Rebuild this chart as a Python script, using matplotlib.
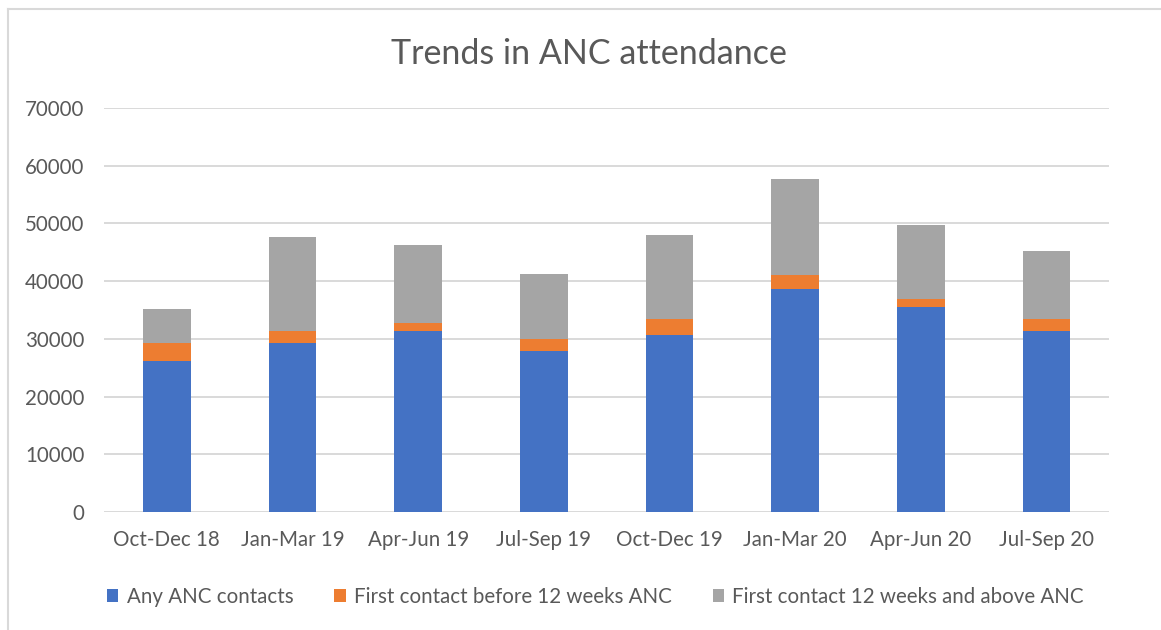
import numpy as np
import matplotlib.pyplot as plt
from matplotlib.lines import Line2D

quarters = ["Oct-Dec 18", "Jan-Mar 19", "Apr-Jun 19", "Jul-Sep 19",
            "Oct-Dec 19", "Jan-Mar 20", "Apr-Jun 20", "Jul-Sep 20"]
any_anc = [26100, 29200, 31300, 27900, 30600, 38600, 35500, 31300]
before_12 = [3100, 2100, 1400, 2000, 2800, 2400, 1400, 2100]
after_12 = [5900, 16300, 13500, 11400, 14500, 16600, 12800, 11800]

plt.rcParams['font.family'] = ['Lato', 'DejaVu Sans']
text_col = "#595959"

fig = plt.figure(figsize=(11.61, 6.3), dpi=100)
ax = fig.add_axes([0.0896, 0.187, 0.866, 0.642])

x = np.arange(len(quarters))
w = 0.38
b1 = np.array(any_anc)
b2 = b1 + np.array(before_12)
ax.bar(x, any_anc, w, color="#4472C4", label="Any ANC contacts", zorder=3)
ax.bar(x, before_12, w, bottom=b1, color="#ED7D31",
       label="First contact before 12 weeks ANC", zorder=3)
ax.bar(x, after_12, w, bottom=b2, color="#A5A5A5",
       label="First contact 12 weeks and above ANC", zorder=3)

ax.set_xlim(-0.5, len(quarters) - 0.5)
ax.set_ylim(0, 70000)
ax.set_yticks(np.arange(0, 70001, 10000))
ax.set_xticks(x)
ax.set_xticklabels(quarters)
ax.tick_params(axis='both', length=0, labelsize=14.8, colors=text_col)
ax.tick_params(axis='x', pad=13)
ax.tick_params(axis='y', pad=14)
ax.grid(axis='y', color="#D9D9D9", linewidth=1.4, zorder=0)
for s in ax.spines.values():
    s.set_visible(False)

fig.text(0.507, 0.915, "Trends in ANC attendance", ha='center', va='center',
         fontsize=24.5, color=text_col)

ax.legend(loc='center', bbox_to_anchor=(0.513, 0.053), bbox_transform=fig.transFigure,
          ncol=3, frameon=False, fontsize=14.8, labelcolor=text_col,
          handlelength=0.55, handleheight=0.6, handletextpad=0.4, columnspacing=2.0)

# light border along left and top edges
fig.add_artist(Line2D([0.0065, 0.0065], [0, 0.986], transform=fig.transFigure,
                      color="#D9D9D9", linewidth=1.5))
fig.add_artist(Line2D([0.0065, 1], [0.986, 0.986], transform=fig.transFigure,
                      color="#D9D9D9", linewidth=1.5))

fig.savefig("out.png", dpi=100, facecolor="white")
